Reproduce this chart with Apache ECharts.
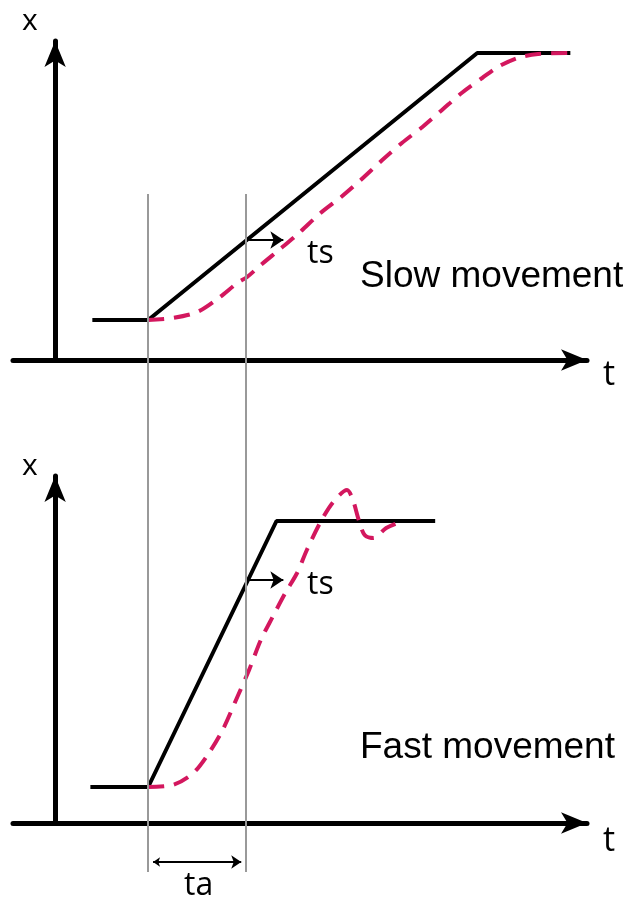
<!DOCTYPE html>
<html>
<head>
<meta charset="utf-8">
<script src="https://cdn.jsdelivr.net/npm/echarts@6/dist/echarts.min.js"></script>
<style>
html,body{margin:0;padding:0;background:#fff;}
#chart{width:630px;height:898px;}
</style>
</head>
<body>
<div id="chart"></div>
<script>
// ---- Data (t in time units, x in position units) ----
// Slow movement: command (black) and actual response (red dashed)
const slowCmdT = [3.8, 9.5, 43.1, 52.6];
const slowCmdX = [4.0, 4.0, 30.7, 30.7];
const slowActT = [9.5, 12.0, 14.5, 16.7, 18.6, 19.6, 21.0, 23.1, 24.9, 27.1, 29.2, 31.2, 33.4, 35.4, 37.5, 39.5, 41.5, 43.6, 45.2, 47.2, 49.3, 52.6];
const slowActX = [4.0, 4.2, 4.8, 6.2, 7.7, 8.3, 9.5, 11.2, 12.7, 14.7, 16.3, 18.0, 20.0, 21.7, 23.3, 25.0, 26.7, 28.2, 29.3, 30.2, 30.6, 30.7];

// Fast movement
const fastCmdT = [3.6, 9.5, 22.6, 38.8];
const fastCmdX = [3.6, 3.6, 30.2, 30.2];
const fastActT = [9.5, 12.0, 14.1, 15.7, 17.1, 18.6, 19.8, 21.0, 22.2, 23.5, 24.7, 25.7, 27.1, 28.4, 29.8, 30.4, 31.0, 31.6, 32.5, 33.8, 35.0];
const fastActX = [3.6, 3.8, 5.0, 7.0, 9.3, 12.6, 15.3, 18.3, 20.6, 23.0, 25.0, 27.3, 30.1, 32.1, 33.3, 32.3, 30.3, 28.8, 28.5, 29.5, 30.0];

// Markers: acceleration interval t_a and settling arrows t_s
const tStart = 9.5;
const tAccelEnd = 19.5;
const guideY = [2.6, 70.4];
const tsArrowT = [19.8, 23.3];
const slowTsX = 12.0;
const fastTsX = 24.3;
const taArrowT = [10.0, 19.0];
const taArrowY = 3.6;

// Axis ranges
const tRange = [-4.3, 54.3];
const slowXRange = [0, 31.9];
const fastXRange = [0, 34.7];
const overlayRange = [0, 70.4];

const zip = (a, b) => a.map((v, i) => [v, b[i]]);

const axisArrowLine = {
  show: true,
  onZero: true,
  symbol: ['none', 'arrow'],
  symbolSize: [16, 26],
  lineStyle: { color: '#000', width: 5 }
};
const hiddenBits = { axisTick: { show: false }, axisLabel: { show: false }, splitLine: { show: false } };

const chart = echarts.init(document.getElementById('chart'), null, { renderer: 'canvas' });

const labelFont = '"Open Sans", sans-serif';
const bigFont = '"Liberation Sans", Arial, sans-serif';

const tsRich = {
  a: { fontFamily: labelFont, fontSize: 32, fontWeight: 'normal', color: '#000', lineHeight: 32, verticalAlign: 'top' },
  b: { fontFamily: labelFont, fontSize: 32, fontWeight: 'normal', color: '#000', lineHeight: 41, verticalAlign: 'top' }
};

chart.setOption({
  animation: false,
  backgroundColor: '#fff',
  title: [
    { text: 'x', left: 22, top: 6, padding: 0, textStyle: { fontFamily: labelFont, fontSize: 30, fontWeight: 'normal', color: '#000' } },
    { text: 't', left: 603, top: 358, padding: 0, textStyle: { fontFamily: labelFont, fontSize: 34, fontWeight: 'normal', color: '#000' } },
    { text: 'x', left: 22, top: 451, padding: 0, textStyle: { fontFamily: labelFont, fontSize: 30, fontWeight: 'normal', color: '#000' } },
    { text: 't', left: 603, top: 824, padding: 0, textStyle: { fontFamily: labelFont, fontSize: 34, fontWeight: 'normal', color: '#000' } },
    { text: '{a|t}{b|s}', left: 307, top: 238, padding: 0, textStyle: { rich: tsRich } },
    { text: '{a|t}{b|s}', left: 307, top: 569, padding: 0, textStyle: { rich: tsRich } },
    { text: '{a|t}{b|a}', left: 184, top: 870, padding: 0, textStyle: { rich: tsRich } },
    { text: 'Slow movement', left: 360, top: 258, padding: 0, textStyle: { fontFamily: bigFont, fontSize: 37, fontWeight: 'normal', color: '#000' } },
    { text: 'Fast movement', left: 360, top: 729, padding: 0, textStyle: { fontFamily: bigFont, fontSize: 37, fontWeight: 'normal', color: '#000' } }
  ],
  grid: [
    { left: 13, width: 574, top: 41, height: 319 },
    { left: 13, width: 574, top: 476, height: 347 },
    { left: 13, width: 574, top: 194, height: 704 }
  ],
  xAxis: [
    Object.assign({ gridIndex: 0, type: 'value', min: tRange[0], max: tRange[1], axisLine: axisArrowLine }, hiddenBits),
    Object.assign({ gridIndex: 1, type: 'value', min: tRange[0], max: tRange[1], axisLine: axisArrowLine }, hiddenBits),
    Object.assign({ gridIndex: 2, type: 'value', min: tRange[0], max: tRange[1], axisLine: { show: false } }, hiddenBits)
  ],
  yAxis: [
    Object.assign({ gridIndex: 0, type: 'value', min: slowXRange[0], max: slowXRange[1], axisLine: axisArrowLine }, hiddenBits),
    Object.assign({ gridIndex: 1, type: 'value', min: fastXRange[0], max: fastXRange[1], axisLine: axisArrowLine }, hiddenBits),
    Object.assign({ gridIndex: 2, type: 'value', min: overlayRange[0], max: overlayRange[1], axisLine: { show: false } }, hiddenBits)
  ],
  series: [
    { type: 'line', xAxisIndex: 0, yAxisIndex: 0, data: zip(slowCmdT, slowCmdX), symbol: 'none', z: 3,
      lineStyle: { color: '#000', width: 4 } },
    { type: 'line', xAxisIndex: 0, yAxisIndex: 0, data: zip(slowActT, slowActX), symbol: 'none', smooth: 0.3, z: 4,
      lineStyle: { color: '#d3175e', width: 4, type: [16, 10] } },
    { type: 'line', xAxisIndex: 1, yAxisIndex: 1, data: zip(fastCmdT, fastCmdX), symbol: 'none', z: 3,
      lineStyle: { color: '#000', width: 4 } },
    { type: 'line', xAxisIndex: 1, yAxisIndex: 1, data: zip(fastActT, fastActX), symbol: 'none', smooth: 0.3, z: 4, clip: false,
      lineStyle: { color: '#d3175e', width: 4, type: [16, 10] } },
    { type: 'lines', coordinateSystem: 'cartesian2d', xAxisIndex: 2, yAxisIndex: 2, z: 5, symbol: 'none',
      lineStyle: { color: '#999', width: 2, opacity: 1 },
      data: [ { coords: [[tStart, guideY[0]], [tStart, guideY[1]]] }, { coords: [[tAccelEnd, guideY[0]], [tAccelEnd, guideY[1]]] } ] },
    { type: 'lines', coordinateSystem: 'cartesian2d', xAxisIndex: 0, yAxisIndex: 0, z: 6,
      symbol: ['none', 'arrow'], symbolSize: [8, 13],
      lineStyle: { color: '#000', width: 2, opacity: 1 },
      data: [ { coords: [[tsArrowT[0], slowTsX], [tsArrowT[1], slowTsX]] } ] },
    { type: 'lines', coordinateSystem: 'cartesian2d', xAxisIndex: 1, yAxisIndex: 1, z: 6,
      symbol: ['none', 'arrow'], symbolSize: [8, 13],
      lineStyle: { color: '#000', width: 2, opacity: 1 },
      data: [ { coords: [[tsArrowT[0], fastTsX], [tsArrowT[1], fastTsX]] } ] },
    { type: 'lines', coordinateSystem: 'cartesian2d', xAxisIndex: 2, yAxisIndex: 2, z: 6,
      symbol: ['arrow', 'arrow'], symbolSize: [7, 10],
      lineStyle: { color: '#000', width: 2, opacity: 1 },
      data: [ { coords: [[taArrowT[0], taArrowY], [taArrowT[1], taArrowY]] } ] }
  ]
});
</script>
</body>
</html>
